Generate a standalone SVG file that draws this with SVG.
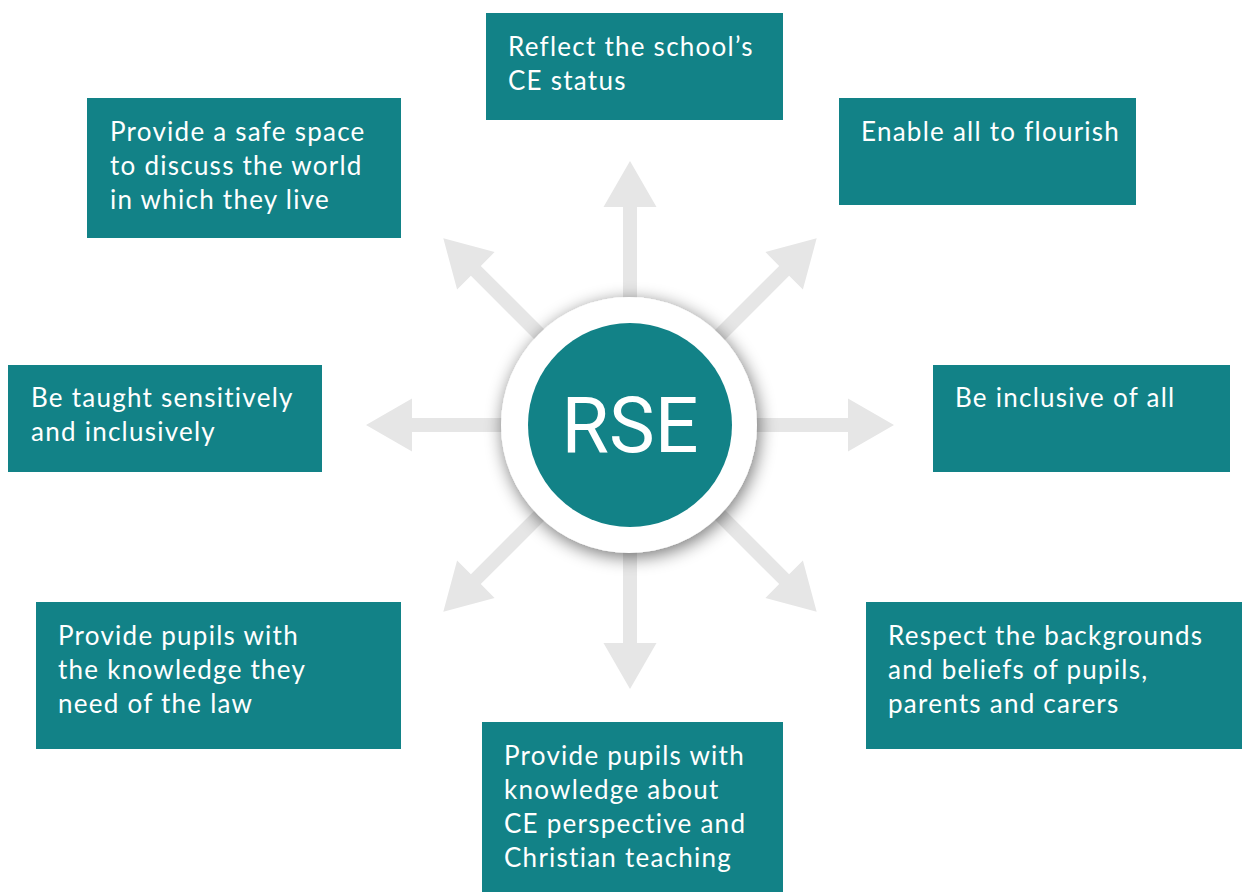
<svg xmlns="http://www.w3.org/2000/svg" width="1242" height="892" viewBox="0 0 1242 892">
<style>
.box{fill:#128287}
.t{font-family:Lato,"Noto Sans",sans-serif;font-size:26px;letter-spacing:1.25px;fill:#ffffff}
.arr{fill:#e6e6e6}
</style>
<defs>
<path id="arrow" d="M0,-7 L218,-7 L218,-26.5 L264,0 L218,26.5 L218,7 L0,7 Z"/>
<filter id="sh" x="-30%" y="-30%" width="160%" height="160%">
<feGaussianBlur in="SourceAlpha" stdDeviation="9"/>
<feOffset dx="2" dy="4" result="b"/>
<feComponentTransfer><feFuncA type="linear" slope="0.55"/></feComponentTransfer>
<feMerge><feMergeNode/><feMergeNode in="SourceGraphic"/></feMerge>
</filter>
</defs>
<rect width="1242" height="892" fill="#ffffff"/>
<g id="connectors" class="arr" transform="translate(630,425)">
<use href="#arrow" transform="rotate(0)"/>
<use href="#arrow" transform="rotate(45)"/>
<use href="#arrow" transform="rotate(90)"/>
<use href="#arrow" transform="rotate(135)"/>
<use href="#arrow" transform="rotate(180)"/>
<use href="#arrow" transform="rotate(225)"/>
<use href="#arrow" transform="rotate(270)"/>
<use href="#arrow" transform="rotate(315)"/>
</g>
<g id="center">
<circle cx="629" cy="425" r="128" fill="#ffffff" filter="url(#sh)"/>
<circle cx="630" cy="425" r="102" fill="#128287"/>
<text x="630" y="452" text-anchor="middle" font-family="Roboto,sans-serif" font-size="77" fill="#ffffff">RSE</text>
</g>
<g id="n-top">
<rect class="box" x="486" y="13" width="297" height="107"/>
<text class="t" x="508" y="56">Reflect the school’s</text>
<text class="t" x="508" y="90">CE status</text>
</g>
<g id="n-topleft">
<rect class="box" x="87" y="98" width="314" height="140"/>
<text class="t" x="110" y="141">Provide a safe space</text>
<text class="t" x="110" y="175">to discuss the world</text>
<text class="t" x="110" y="209">in which they live</text>
</g>
<g id="n-topright">
<rect class="box" x="839" y="98" width="297" height="107"/>
<text class="t" x="861" y="141">Enable all to flourish</text>
</g>
<g id="n-left">
<rect class="box" x="8" y="365" width="314" height="107"/>
<text class="t" x="31" y="407">Be taught sensitively</text>
<text class="t" x="31" y="441">and inclusively</text>
</g>
<g id="n-right">
<rect class="box" x="933" y="365" width="297" height="107"/>
<text class="t" x="955" y="407">Be inclusive of all</text>
</g>
<g id="n-bottomleft">
<rect class="box" x="36" y="602" width="365" height="147"/>
<text class="t" x="58" y="645">Provide pupils with</text>
<text class="t" x="58" y="679">the knowledge they</text>
<text class="t" x="58" y="713">need of the law</text>
</g>
<g id="n-bottomright">
<rect class="box" x="866" y="602" width="376" height="147"/>
<text class="t" x="888" y="645">Respect the backgrounds</text>
<text class="t" x="888" y="679">and beliefs of pupils,</text>
<text class="t" x="888" y="713">parents and carers</text>
</g>
<g id="n-bottom">
<rect class="box" x="482" y="722" width="301" height="170"/>
<text class="t" x="504" y="765">Provide pupils with</text>
<text class="t" x="504" y="799">knowledge about</text>
<text class="t" x="504" y="833">CE perspective and</text>
<text class="t" x="504" y="867">Christian teaching</text>
</g>
</svg>
